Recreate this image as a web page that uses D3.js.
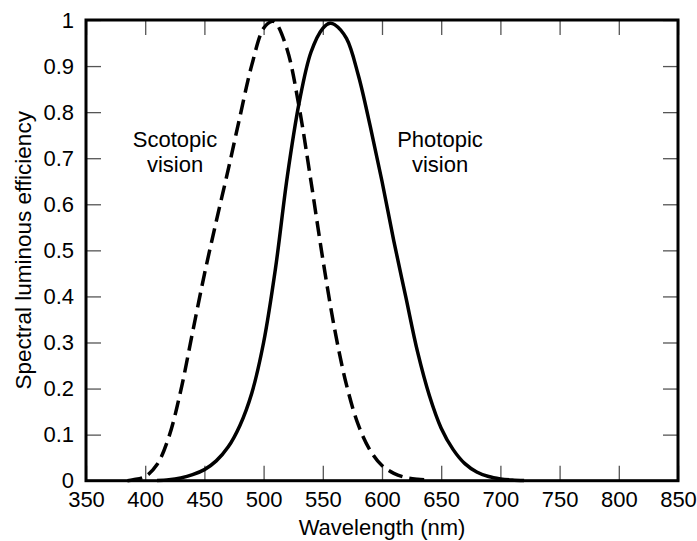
<!DOCTYPE html>
<html>
<head>
<meta charset="utf-8">
<script src="https://d3js.org/d3.v7.min.js"></script>
<style>
  body { margin: 0; background: #fff; }
  text { font-family: "Liberation Sans", Arial, Helvetica, sans-serif; fill: #000; }
</style>
</head>
<body>
<div id="chart"></div>
<script>
// wavelength (nm) and efficiency values
var scotopicNm = [385, 390, 400, 410, 420, 430, 440, 450, 460, 470, 480, 490, 500, 507, 510, 520, 530, 540, 550, 560, 570, 580, 590, 600, 610, 620, 630, 640];
var scotopicV  = [0, 0.002, 0.009, 0.035, 0.095, 0.195, 0.322, 0.448, 0.563, 0.674, 0.79, 0.902, 0.982, 0.997, 0.995, 0.935, 0.811, 0.65, 0.481, 0.329, 0.208, 0.121, 0.066, 0.033, 0.016, 0.007, 0.003, 0.0012];

var photopicNm = [410, 420, 430, 440, 450, 460, 470, 480, 490, 500, 510, 520, 530, 540, 550, 556, 560, 570, 580, 590, 600, 610, 620, 630, 640, 650, 660, 670, 680, 690, 700, 710, 720];
var photopicV  = [0.0005, 0.002, 0.006, 0.013, 0.024, 0.043, 0.073, 0.12, 0.19, 0.3, 0.46, 0.66, 0.82, 0.93, 0.982, 0.993, 0.99, 0.96, 0.88, 0.77, 0.65, 0.52, 0.4, 0.28, 0.185, 0.114, 0.068, 0.037, 0.019, 0.009, 0.004, 0.0015, 0.0003];

var xTicks = [350, 400, 450, 500, 550, 600, 650, 700, 750, 800, 850];
var yTicks = [0, 0.1, 0.2, 0.3, 0.4, 0.5, 0.6, 0.7, 0.8, 0.9, 1];

var width = 697, height = 541;
var margin = {top: 20, right: 19, bottom: 60.3, left: 86};

var svg = d3.select("#chart").append("svg")
    .attr("width", width)
    .attr("height", height);

var x = d3.scaleLinear().domain([350, 850]).range([margin.left, width - margin.right]);
var y = d3.scaleLinear().domain([0, 1]).range([height - margin.bottom, margin.top]);

// axes with inward ticks on all four sides
var fmt = function(d) { return d3.format("~g")(d); };

svg.append("g")
    .attr("transform", "translate(0," + y(0) + ")")
    .call(d3.axisBottom(x).tickValues(xTicks).tickSize(-15).tickPadding(11).tickFormat(fmt));
svg.append("g")
    .attr("transform", "translate(0," + y(1) + ")")
    .call(d3.axisTop(x).tickValues(xTicks).tickSize(-15).tickFormat(""));
svg.append("g")
    .attr("transform", "translate(" + x(350) + ",0)")
    .call(d3.axisLeft(y).tickValues(yTicks).tickSize(-15).tickPadding(12).tickFormat(fmt));
svg.append("g")
    .attr("transform", "translate(" + x(850) + ",0)")
    .call(d3.axisRight(y).tickValues(yTicks).tickSize(-15).tickFormat(""));

svg.selectAll(".domain").remove();
svg.selectAll(".tick line").attr("stroke", "#555").attr("stroke-width", 1.3);
svg.selectAll(".tick text").attr("font-size", 22).attr("fill", "#000")
    .style("font-family", "'Liberation Sans', Arial, sans-serif");

// frame
svg.append("rect")
    .attr("x", x(350)).attr("y", y(1))
    .attr("width", x(850) - x(350)).attr("height", y(0) - y(1))
    .attr("fill", "none").attr("stroke", "#000").attr("stroke-width", 3);

// curves
var line = d3.line()
    .x(function(d) { return x(d[0]); })
    .y(function(d) { return y(d[1]); })
    .curve(d3.curveCatmullRom);

var scot = scotopicNm.map(function(d, i) { return [d, scotopicV[i]]; });
var phot = photopicNm.map(function(d, i) { return [d, photopicV[i]]; });

svg.append("path").datum(scot)
    .attr("d", line)
    .attr("fill", "none").attr("stroke", "#000").attr("stroke-width", 3.5)
    .attr("stroke-dasharray", "15,7");

svg.append("path").datum(phot)
    .attr("d", line)
    .attr("fill", "none").attr("stroke", "#000").attr("stroke-width", 3.5);

// labels
svg.append("text")
    .attr("x", (x(350) + x(850)) / 2).attr("y", 535)
    .attr("text-anchor", "middle").attr("font-size", 22)
    .text("Wavelength (nm)");

svg.append("text")
    .attr("transform", "translate(31," + (y(0) + y(1)) / 2 + ") rotate(-90)")
    .attr("text-anchor", "middle").attr("font-size", 22.5)
    .text("Spectral luminous efficiency");

var notes = [
    {x: 175, lines: ["Scotopic", "vision"]},
    {x: 440, lines: ["Photopic", "vision"]}
];
notes.forEach(function(n) {
    n.lines.forEach(function(t, i) {
        svg.append("text")
            .attr("x", n.x).attr("y", 146.5 + i * 25)
            .attr("text-anchor", "middle").attr("font-size", 22)
            .text(t);
    });
});
</script>
</body>
</html>
